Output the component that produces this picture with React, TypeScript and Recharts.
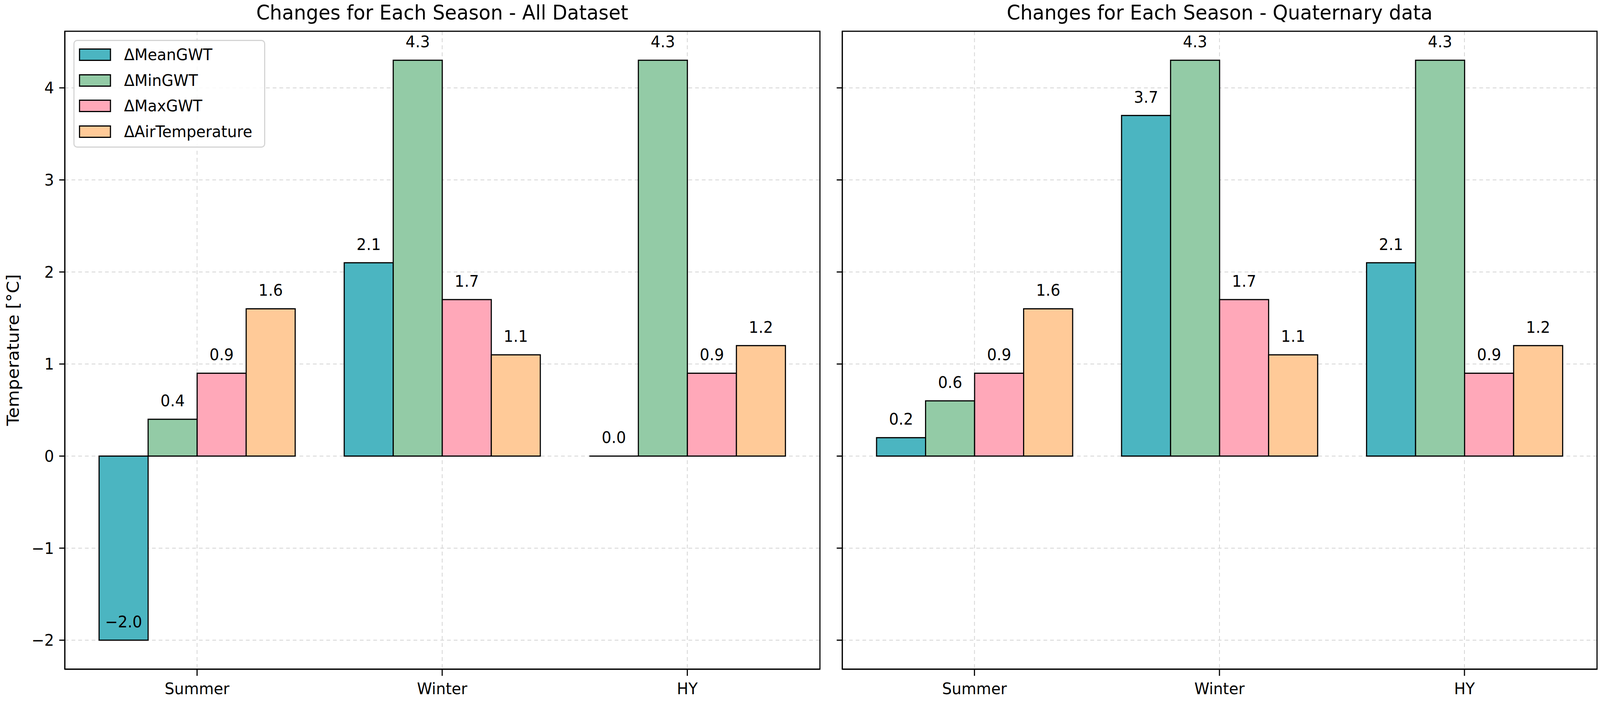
import React from "react";
import {
  BarChart,
  Bar,
  XAxis,
  YAxis,
  CartesianGrid,
  Legend,
  LabelList,
} from "recharts";

const seasons = ["Summer", "Winter", "HY"];

// All Dataset
const allMeanGWT = [-2.0, 2.1, 0.0];
const allMinGWT = [0.4, 4.3, 4.3];
const allMaxGWT = [0.9, 1.7, 0.9];
const allAirTemp = [1.6, 1.1, 1.2];

// Quaternary data
const quatMeanGWT = [0.2, 3.7, 2.1];
const quatMinGWT = [0.6, 4.3, 4.3];
const quatMaxGWT = [0.9, 1.7, 0.9];
const quatAirTemp = [1.6, 1.1, 1.2];

const yTicks = [-2, -1, 0, 1, 2, 3, 4];
const yDomain = [-2.315, 4.615];

const seriesKeys = ["mean", "min", "max", "air"];
const seriesNames = ["ΔMeanGWT", "ΔMinGWT", "ΔMaxGWT", "ΔAirTemperature"];
const seriesColors = ["#4BB5C1", "#93CBA6", "#FFA8B9", "#FFCA98"];

const buildRows = (mean: number[], min: number[], max: number[], air: number[]) =>
  seasons.map((s, i) => ({ season: s, mean: mean[i], min: min[i], max: max[i], air: air[i] }));

const allData = buildRows(allMeanGWT, allMinGWT, allMaxGWT, allAirTemp);
const quatData = buildRows(quatMeanGWT, quatMinGWT, quatMaxGWT, quatAirTemp);

const W = 4295;
const H = 1797;
const FONT = "DejaVu Sans";
const minus = (s: string) => s.replace("-", "\u2212");

const BarShape = (props: any) => {
  const { x, y, width, height, fill } = props;
  const top = Math.min(y, y + height);
  const h = Math.abs(height);
  if (h < 1) {
    return <line x1={x} x2={x + width} y1={top} y2={top} stroke="#000" strokeWidth={3} />;
  }
  return <rect x={x} y={top} width={width} height={h} fill={fill} stroke="#000" strokeWidth={3} />;
};

const ValueLabel = (props: any) => {
  const vb = props.viewBox ?? props;
  const x = vb.x ?? props.x;
  const y = vb.y ?? props.y;
  const width = vb.width ?? props.width;
  const height = vb.height ?? props.height;
  const value = Number(props.value);
  const end = value >= 0 ? Math.min(y, y + height) : Math.max(y, y + height);
  return (
    <text x={x + width / 2} y={end - 33} textAnchor="middle" fontSize={41} fontFamily={FONT} fill="#000">
      {minus(value.toFixed(1))}
    </text>
  );
};

const LegendBox = () => (
  <div
    style={{
      position: "relative",
      width: 515,
      height: 276,
      boxSizing: "border-box",
      border: "3px solid #d4d4d4",
      borderRadius: 10,
      background: "rgba(255,255,255,0.85)",
      fontFamily: FONT,
    }}
  >
    {seriesNames.map((n, i) => (
      <div
        key={n}
        style={{
          position: "absolute",
          left: 12,
          top: 35 + 65.5 * i - 25,
          height: 50,
          display: "flex",
          alignItems: "center",
        }}
      >
        <div
          style={{
            width: 86,
            height: 32,
            boxSizing: "border-box",
            border: "3px solid #000",
            background: seriesColors[i],
          }}
        />
        <span style={{ marginLeft: 35, fontSize: 41, color: "#000", whiteSpace: "nowrap" }}>{n}</span>
      </div>
    ))}
  </div>
);

const axisStroke = { stroke: "#000", strokeWidth: 3 };

const Panel = ({ data, width, left, marginLeft, marginRight, yWidth, showY, showLegend }: any) => (
  <div style={{ position: "absolute", left, top: 0 }}>
    <BarChart
      width={width}
      height={H}
      data={data}
      barGap={0}
      barSize={131.6}
      margin={{ top: 80, right: marginRight, bottom: 24, left: marginLeft }}
    >
      <CartesianGrid stroke="#d3d3d3" strokeWidth={2} strokeDasharray="10 8" />
      <XAxis
        dataKey="season"
        padding={{ left: 26, right: 27 }}
        height={60}
        interval={0}
        tickSize={17}
        tickMargin={18}
        axisLine={axisStroke}
        tickLine={axisStroke}
        tick={{ fill: "#000", fontSize: 41, fontFamily: FONT }}
      />
      <YAxis
        type="number"
        domain={yDomain}
        ticks={yTicks}
        allowDataOverflow
        width={yWidth}
        tickSize={15}
        tickMargin={14}
        axisLine={axisStroke}
        tickLine={axisStroke}
        tick={{ fill: "#000", fontSize: 41, fontFamily: FONT }}
        tickFormatter={(v: number) => (showY ? minus(String(v)) : "")}
      />
      {showLegend && (
        <Legend
          layout="vertical"
          align="center"
          verticalAlign="middle"
          wrapperStyle={{ left: 197, top: 102, width: 515, height: 276 }}
          content={() => <LegendBox />}
        />
      )}
      {seriesKeys.map((k, i) => (
        <Bar
          key={k}
          dataKey={k}
          name={seriesNames[i]}
          fill={seriesColors[i]}
          shape={<BarShape />}
          isAnimationActive={false}
        >
          <LabelList dataKey={k} content={<ValueLabel />} />
        </Bar>
      ))}
    </BarChart>
  </div>
);

export default function App() {
  const vw = typeof window !== "undefined" ? window.innerWidth : W;
  const vh = typeof window !== "undefined" ? window.innerHeight : H;
  const sx = vw > 0 ? vw / W : 1;
  const sy = vh > 0 ? vh / H : sx;
  return (
    <div
      style={{
        position: "absolute",
        left: 0,
        top: 0,
        width: W * sx,
        height: H * sy,
        overflow: "hidden",
        background: "#fff",
      }}
    >
      <div
        style={{
          position: "absolute",
          left: 0,
          top: 0,
          width: W,
          height: H,
          background: "#fff",
          transform: `scale(${sx}, ${sy})`,
          transformOrigin: "0 0",
        }}
      >
        <Panel data={allData} width={2230} left={0} marginLeft={74} marginRight={29} yWidth={100} showY showLegend />
        <Panel data={quatData} width={2095} left={2200} marginLeft={41} marginRight={8} yWidth={20} showY={false} />
        <svg width={W} height={H} style={{ position: "absolute", left: 0, top: 0, pointerEvents: "none" }}>
          <rect x={174} y={80} width={2027} height={1633} fill="none" stroke="#000" strokeWidth={3} />
          <rect x={2261} y={80} width={2026} height={1633} fill="none" stroke="#000" strokeWidth={3} />
          <text x={1187} y={50} textAnchor="middle" fontSize={52} fontFamily={FONT} fill="#000">
            Changes for Each Season - All Dataset
          </text>
          <text x={3274} y={50} textAnchor="middle" fontSize={52} fontFamily={FONT} fill="#000">
            Changes for Each Season - Quaternary data
          </text>
          <text
            transform="translate(50,896) rotate(-90)"
            textAnchor="middle"
            fontSize={45}
            fontFamily={FONT}
            fill="#000"
          >
            Temperature [°C]
          </text>
        </svg>
      </div>
    </div>
  );
}
